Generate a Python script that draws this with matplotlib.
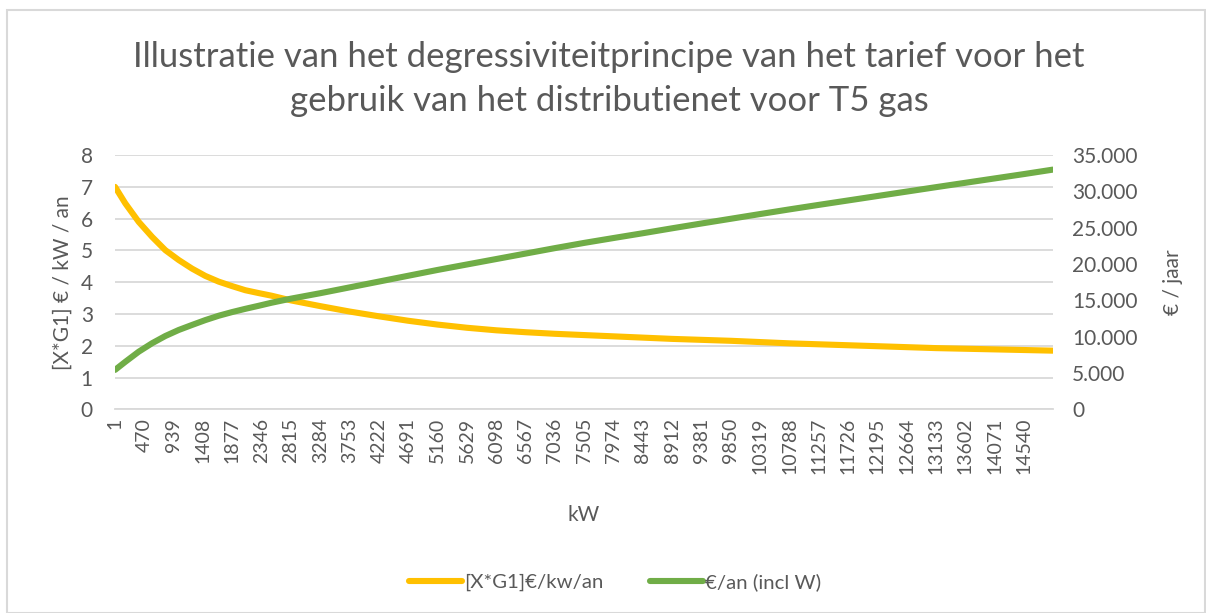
import matplotlib
matplotlib.use("Agg")
import matplotlib.pyplot as plt
from matplotlib.ticker import FuncFormatter
from matplotlib.lines import Line2D
from matplotlib.patches import Rectangle

plt.rcParams['font.family'] = ['Lato', 'DejaVu Sans']

# ---- data ----
kw = [1, 165, 379, 592, 805, 1019, 1232, 1445, 1659, 1872, 2085, 2299, 2500,
      2815, 3284, 3753, 4222, 4691, 5160, 5629, 6098, 6567, 7036, 7505, 7974,
      8443, 8912, 9381, 9850, 10319, 10788, 11257, 11726, 12195, 12664, 13133,
      13602, 14071, 14540, 15000]
tarief = [7.00, 6.48, 5.90, 5.43, 5.01, 4.70, 4.43, 4.20, 4.02, 3.88, 3.75,
          3.66, 3.58, 3.43, 3.25, 3.08, 2.93, 2.79, 2.67, 2.57, 2.49, 2.43,
          2.38, 2.34, 2.30, 2.26, 2.22, 2.19, 2.16, 2.12, 2.08, 2.05, 2.02,
          1.99, 1.96, 1.93, 1.91, 1.89, 1.87, 1.85]
kost = [5450, 6560, 7950, 9110, 10110, 10940, 11630, 12300, 12900, 13400,
        13850, 14270, 14680, 15250, 16000, 16800, 17600, 18400, 19200, 19950,
        20700, 21450, 22200, 22920, 23590, 24250, 24930, 25590, 26240, 26890,
        27530, 28150, 28760, 29370, 29980, 30590, 31190, 31790, 32390, 33000]
tick_labels = [1, 470, 939, 1408, 1877, 2346, 2815, 3284, 3753, 4222, 4691,
               5160, 5629, 6098, 6567, 7036, 7505, 7974, 8443, 8912, 9381,
               9850, 10319, 10788, 11257, 11726, 12195, 12664, 13133, 13602,
               14071, 14540]
n_categories = 15000

title = "Illustratie van het degressiviteitprincipe van het tarief voor het\ngebruik van het distributienet voor T5 gas"
s1_name = "[X*G1]€/kw/an"
s2_name = "€/an (incl W)"

YELLOW = "#FFC000"
GREEN = "#70AD47"
TXT = "#595959"
GRID = "#D9D9D9"

fig = plt.figure(figsize=(12.06, 6.13), dpi=100)
fig.patches.append(Rectangle((0.006, 0.0), 0.993, 0.984, transform=fig.transFigure,
                             fill=False, edgecolor=GRID, linewidth=1.5))
ax = fig.add_axes([0.0954, 0.332, 0.873 - 0.0954, 0.747 - 0.332])
ax2 = ax.twinx()

ax.plot(kw, tarief, color=YELLOW, lw=4.4, solid_capstyle='round',
        solid_joinstyle='round', zorder=3)
ax2.plot(kw, kost, color=GREEN, lw=4.4, solid_capstyle='round',
         solid_joinstyle='round', zorder=3)

ax.set_xlim(0.5, n_categories + 0.5)
ax.set_ylim(0, 8)
ax2.set_ylim(0, 35000)
ax.set_yticks(range(0, 9))
ax2.set_yticks(range(0, 35001, 5000))
ax2.yaxis.set_major_formatter(FuncFormatter(lambda v, p: f"{int(v):,}".replace(",", ".")))

ax.set_xticks(tick_labels)
ax.set_xticklabels([str(t) for t in tick_labels], rotation=90, fontsize=14, color=TXT)

ax.grid(axis='y', color=GRID, lw=1.3, zorder=0)
for a in (ax, ax2):
    for s in a.spines.values():
        s.set_visible(False)
    a.tick_params(length=0, colors=TXT)
ax.spines['bottom'].set_visible(True)
ax.spines['bottom'].set_color(GRID)
ax.spines['bottom'].set_linewidth(1.3)

ax.tick_params(axis='y', labelsize=15, pad=16)
ax2.tick_params(axis='y', labelsize=15, pad=14)
ax.tick_params(axis='x', pad=6)

ax.set_ylabel("[X*G1] € / kW / an", fontsize=15, color=TXT, labelpad=6)
ax2.set_ylabel("€ / jaar", fontsize=15, color=TXT, labelpad=18)
ax.set_xlabel("kW", fontsize=15, color=TXT, labelpad=22)

fig.text(0.505, 0.871, title, ha='center', va='center', fontsize=25,
         color=TXT, linespacing=1.45, fontweight='normal')

handles = [Line2D([], [], color=YELLOW, lw=4.4, solid_capstyle='round'),
           Line2D([], [], color=GREEN, lw=4.4, solid_capstyle='round')]
fig.legend(handles, [s1_name, s2_name], loc='center', bbox_to_anchor=(0.51, 0.05),
           ncol=2, frameon=False, fontsize=14.7, labelcolor=TXT, handlelength=2.6,
           handletextpad=0.1, columnspacing=2.3)

fig.savefig("out.png", dpi=100)
